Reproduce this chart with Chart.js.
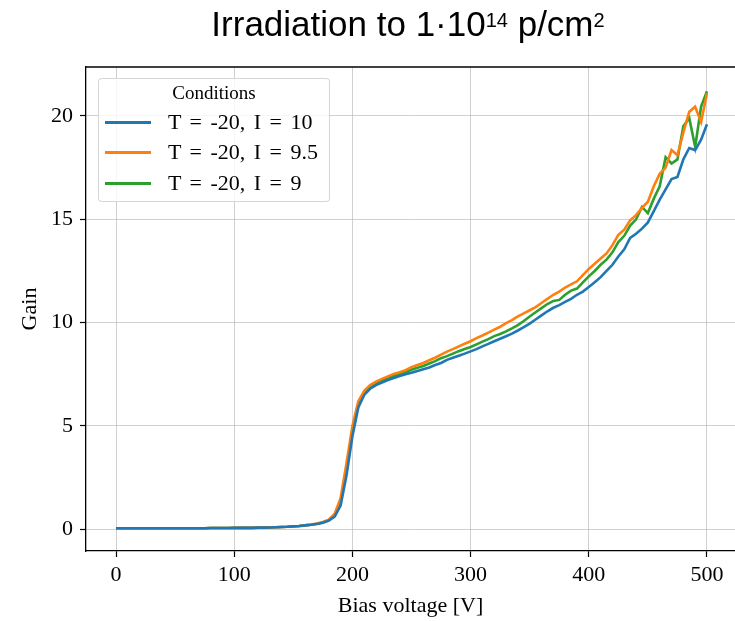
<!DOCTYPE html>
<html>
<head>
<meta charset="utf-8">
<script src="https://cdn.jsdelivr.net/npm/chart.js@4.4.1/dist/chart.umd.min.js"></script>
<style>
  body { margin: 0; background: #fff; }
  #wrap { position: relative; width: 735px; height: 621px; overflow: hidden; }
  #title {
    position: absolute; left: 0; width: 816px; top: 3px; text-align: center;
    font-family: "Liberation Sans", Arial, sans-serif; font-size: 35px; line-height: 35px; color: #000;
  }
  #title .sup { font-size: 20px; vertical-align: 9px; }
  #legend {
    position: absolute; left: 98px; top: 78px; width: 230px; height: 122px;
    background: rgba(255,255,255,0.8); border: 1px solid rgba(204,204,204,0.8); border-radius: 4px;
    font-family: "Liberation Serif", "DejaVu Serif", serif; color: #000;
  }
  #legend .ltitle { position: absolute; left: 0; width: 100%; top: 2px; text-align: center; font-size: 19px; line-height: 24px; }
  #legend .row { position: absolute; left: 0; height: 26px; width: 100%; }
  #legend .sw { position: absolute; left: 6px; top: 11.5px; width: 46px; height: 3px; }
  #legend .txt { position: absolute; left: 69px; top: 0; font-size: 22px; line-height: 26px; word-spacing: 3px; white-space: nowrap; }
</style>
</head>
<body>
<div id="wrap">
  <canvas id="myChart" width="735" height="621"></canvas>
  <div id="title">Irradiation to 1·10<span class="sup">14</span> p/cm<span class="sup">2</span></div>
  <div id="legend"></div>
</div>
<script>
// Bias voltage [V]
var voltages = [0, 5, 10, 15, 20, 25, 30, 35, 40, 45, 50, 55, 60, 65, 70, 75, 80, 85, 90, 95,
	100, 105, 110, 115, 120, 125, 130, 135, 140, 145, 150, 155, 160, 165, 170, 175, 180, 185, 190, 195,
	200, 205, 210, 215, 220, 225, 230, 235, 240, 245, 250, 255, 260, 265, 270, 275, 280, 285, 290, 295,
	300, 305, 310, 315, 320, 325, 330, 335, 340, 345, 350, 355, 360, 365, 370, 375, 380, 385, 390, 395,
	400, 405, 410, 415, 420, 425, 430, 435, 440, 445, 450, 455, 460, 465, 470, 475, 480, 485, 490, 495, 500];

// Gain, T = -20, I = 10
var gainI10 = [0.05, 0.05, 0.05, 0.05, 0.05, 0.05, 0.05, 0.05, 0.05, 0.05, 0.05, 0.05, 0.05, 0.05, 0.05, 0.05, 0.06, 0.06, 0.06, 0.06,
	0.07, 0.07, 0.07, 0.07, 0.08, 0.08, 0.09, 0.1, 0.11, 0.12, 0.14, 0.16, 0.19, 0.22, 0.26, 0.32, 0.42, 0.62, 1.15, 2.6,
	4.5, 5.9, 6.5, 6.8, 6.98, 7.1, 7.22, 7.32, 7.42, 7.5, 7.57, 7.66, 7.75, 7.83, 7.95, 8.05, 8.2, 8.3, 8.4, 8.5,
	8.61, 8.72, 8.85, 8.97, 9.1, 9.22, 9.34, 9.47, 9.62, 9.78, 9.95, 10.15, 10.35, 10.55, 10.72, 10.85, 11.0, 11.15, 11.35, 11.5,
	11.72, 11.95, 12.2, 12.5, 12.8, 13.2, 13.55, 14.1, 14.3, 14.55, 14.85, 15.4, 15.95, 16.45, 16.95, 17.05, 17.9, 18.45, 18.35, 18.85, 19.6];

// Gain, T = -20, I = 9.5
var gainI95 = [0.05, 0.05, 0.05, 0.05, 0.05, 0.05, 0.05, 0.05, 0.05, 0.05, 0.05, 0.05, 0.05, 0.05, 0.05, 0.05, 0.06, 0.06, 0.06, 0.06,
	0.07, 0.07, 0.07, 0.07, 0.08, 0.08, 0.09, 0.1, 0.11, 0.12, 0.14, 0.16, 0.19, 0.23, 0.28, 0.35, 0.47, 0.75, 1.5, 3.2,
	5.0, 6.2, 6.7, 6.98, 7.15, 7.28, 7.4, 7.52, 7.6, 7.7, 7.85, 7.95, 8.05, 8.18, 8.3, 8.45, 8.6, 8.72, 8.85, 8.98,
	9.1, 9.25, 9.38, 9.52, 9.66, 9.8, 9.98, 10.12, 10.3, 10.45, 10.6, 10.75, 10.95, 11.15, 11.35, 11.5, 11.7, 11.85, 12.0, 12.3,
	12.6, 12.85, 13.1, 13.35, 13.75, 14.25, 14.5, 14.95, 15.2, 15.55, 15.85, 16.6, 17.2, 17.5, 18.35, 18.1, 19.2, 20.2, 20.45, 19.7, 21.1];

// Gain, T = -20, I = 9
var gainI9 = [0.05, 0.05, 0.05, 0.05, 0.05, 0.05, 0.05, 0.05, 0.05, 0.05, 0.05, 0.05, 0.05, 0.05, 0.05, 0.05, 0.06, 0.06, 0.06, 0.06,
	0.07, 0.07, 0.07, 0.07, 0.08, 0.08, 0.09, 0.1, 0.11, 0.12, 0.14, 0.16, 0.19, 0.22, 0.27, 0.33, 0.44, 0.65, 1.3, 2.9,
	4.8, 6.05, 6.6, 6.9, 7.08, 7.2, 7.32, 7.42, 7.5, 7.6, 7.72, 7.82, 7.9, 8.02, 8.14, 8.28, 8.38, 8.5, 8.62, 8.72,
	8.82, 8.95, 9.08, 9.2, 9.35, 9.45, 9.58, 9.72, 9.88, 10.08, 10.3, 10.5, 10.7, 10.9, 11.05, 11.1, 11.35, 11.55, 11.65, 11.95,
	12.24, 12.5, 12.8, 13.05, 13.4, 13.9, 14.2, 14.7, 15.0, 15.6, 15.3, 16.0, 16.6, 18.0, 17.7, 17.9, 19.5, 19.9, 18.5, 20.45, 21.2];

var seriesLabels = ["T = -20, I = 10", "T = -20, I = 9.5", "T = -20, I = 9"];
var seriesColors = ["#1f77b4", "#ff7f0e", "#2ca02c"];
var xTicks = [0, 100, 200, 300, 400, 500];
var yTicks = [0, 5, 10, 15, 20];

function toPoints(values) {
	return values.map(function(v, i) { return { x: voltages[i], y: v }; });
}

var allGains = [gainI10, gainI95, gainI9];
var datasets = allGains.map(function(g, i) {
	return {
		label: seriesLabels[i],
		data: toPoints(g),
		borderColor: seriesColors[i],
		backgroundColor: seriesColors[i],
		borderWidth: 2.6,
		pointRadius: 0,
		tension: 0,
		fill: false
	};
});

// legend drawn as html over the plot, like the matplotlib one
var legendHtml = '<div class="ltitle">Conditions</div>';
seriesLabels.forEach(function(lab, i) {
	var top = [30, 60, 91][i];
	legendHtml += '<div class="row" style="top:' + top + 'px"><div class="sw" style="background:' + seriesColors[i] + '"></div><div class="txt">' + lab + '</div></div>';
});
document.getElementById("legend").innerHTML = legendHtml;

// top frame line
var frameTop = {
	id: "frameTop",
	afterDraw: function(chart) {
		var a = chart.chartArea, ctx = chart.ctx;
		ctx.save();
		ctx.strokeStyle = "#000";
		ctx.lineWidth = 1.3;
		ctx.beginPath();
		ctx.moveTo(a.left, a.top);
		ctx.lineTo(a.right, a.top);
		ctx.stroke();
		ctx.restore();
	}
};

Chart.defaults.font.family = '"Liberation Serif", "DejaVu Serif", serif';
Chart.defaults.color = "#000";

var ctx = document.getElementById("myChart");
var myChart = new Chart(ctx, {
	type: "line",
	data: { datasets: datasets },
	plugins: [frameTop],
	options: {
		responsive: false,
		animation: false,
		devicePixelRatio: 1,
		layout: { padding: { top: 67, left: 0, right: 0, bottom: 0 } },
		plugins: {
			legend: { display: false },
			tooltip: { enabled: false }
		},
		scales: {
			x: {
				type: "linear",
				min: -25.4,
				max: 523.7,
				afterFit: function(s) { s.height = 70; },
				afterBuildTicks: function(s) { s.ticks = xTicks.map(function(v) { return { value: v }; }); },
				ticks: { font: { size: 22 }, padding: 5, maxRotation: 0, autoSkip: false },
				grid: { color: "rgba(176,176,176,0.6)", lineWidth: 1, tickColor: "#000", tickLength: 6, tickWidth: 1.2 },
				border: { color: "#000", width: 1.3 },
				title: { display: true, text: "Bias voltage [V]", font: { size: 22 }, padding: { top: 0, bottom: 2 } }
			},
			y: {
				type: "linear",
				min: -1.05,
				max: 22.37,
				afterFit: function(s) { s.width = 86; },
				afterBuildTicks: function(s) { s.ticks = yTicks.map(function(v) { return { value: v }; }); },
				ticks: { font: { size: 22 }, padding: 7 },
				grid: { color: "rgba(176,176,176,0.6)", lineWidth: 1, tickColor: "#000", tickLength: 6, tickWidth: 1.2 },
				border: { color: "#000", width: 1.3 },
				title: { display: true, text: "Gain", font: { size: 22 }, padding: { top: 17, bottom: 0 } }
			}
		}
	}
});
</script>
</body>
</html>
